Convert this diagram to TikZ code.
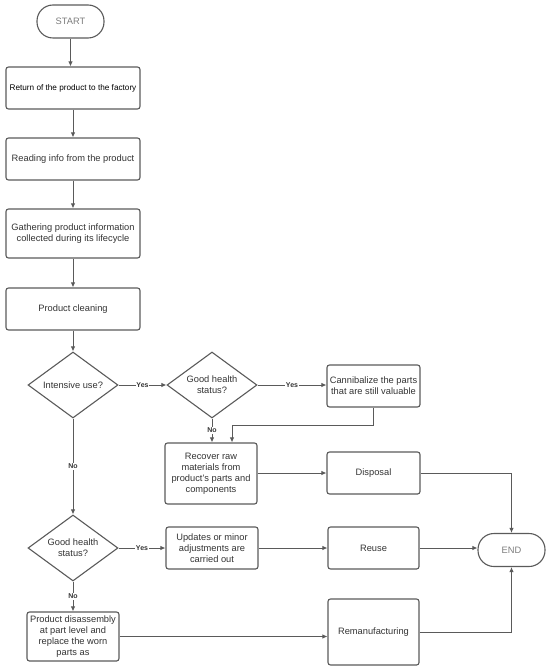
\documentclass[tikz,border=0pt]{standalone}
\usepackage{fontspec}
\setmainfont{Liberation Sans}
\usetikzlibrary{shapes.geometric,arrows.meta}
\definecolor{ln}{HTML}{5A5A5A}
\definecolor{tx}{HTML}{333333}
\begin{document}
\begin{tikzpicture}[x=1pt,y=-1pt,
  base/.style={draw=ln,line width=1.1pt,text=tx,align=center,inner sep=1pt,
    font=\fontsize{9.3}{11}\selectfont},
  proc/.style={base,rectangle,rounded corners=2.5pt},
  term/.style={base,rectangle,rounded corners=16pt,minimum width=67pt,minimum height=33pt,text=ln!80},
  dec/.style={base,diamond,aspect=1.36,minimum width=90pt,minimum height=66pt,inner sep=0pt},
  arr/.style={draw=ln,line width=0.9pt,-{Latex[length=5pt,width=4.5pt]}},
  lbl/.style={fill=white,inner sep=0.8pt,text=tx,font=\bfseries\fontsize{7}{8}\selectfont}]
\useasboundingbox (0,0) rectangle (550,671);
\node[term] (start) at (70.5,21.5) {START};
\node[proc,minimum width=134pt,minimum height=42pt,text=black,font=\fontsize{8.2}{10}\selectfont] (b1) at (73,88) {Return of the product to the factory};
\node[proc,minimum width=134pt,minimum height=42pt] (b2) at (73,159) {Reading info from the product};
\node[proc,minimum width=134pt,minimum height=49pt] (b3) at (73,233.5) {Gathering product information\\collected during its lifecycle};
\node[proc,minimum width=134pt,minimum height=42pt] (b4) at (73,309) {Product cleaning};
\node[dec] (d1) at (73,385) {Intensive use?};
\node[dec] (d2) at (212,385) {Good health\\status?};
\node[proc,minimum width=93pt,minimum height=42pt] (cann) at (373.5,386) {Cannibalize the parts\\that are still valuable};
\node[proc,minimum width=92pt,minimum height=61pt] (rec) at (211,473.5) {Recover raw\\materials from\\product's parts and\\components};
\node[proc,minimum width=93pt,minimum height=42pt] (disp) at (373.5,473) {Disposal};
\node[dec] (d3) at (73,548) {Good health\\status?};
\node[proc,minimum width=92pt,minimum height=42pt] (upd) at (212,548) {Updates or minor\\adjustments are\\carried out};
\node[proc,minimum width=91pt,minimum height=42pt] (reuse) at (373.5,548) {Reuse};
\node[term] (endn) at (511.5,550) {END};
\node[proc,minimum width=92pt,minimum height=49pt] (dis) at (73,636.5) {Product disassembly\\at part level and\\replace the worn\\parts as};
\node[proc,minimum width=91pt,minimum height=66pt] (reman) at (373.5,632) {Remanufacturing};
\coordinate (cb) at (232,425);
\draw[arr] (start) -- (start.south |- b1.north);
\draw[arr] (b1) -- (b2);
\draw[arr] (b2) -- (b3);
\draw[arr] (b3) -- (b4);
\draw[arr] (b4) -- (d1);
\draw[arr] (d1) -- node[lbl]{Yes} (d2);
\draw[arr] (d2) -- node[lbl]{Yes} (d2.east -| cann.west);
\draw[arr] (d2.south) -- node[lbl]{No} (d2.south |- rec.north);
\draw[arr] (cann.south) |- (cb) -- (cb |- rec.north);
\draw[arr] (rec.east |- disp.west) -- (disp.west);
\draw[arr] (disp.east) -| (endn.north);
\draw[arr] (d1.south) -- node[lbl]{No} (d3.north);
\draw[arr] (d3) -- node[lbl]{Yes} (upd);
\draw[arr] (d3.south) -- node[lbl]{No} (dis.north);
\draw[arr] (upd) -- (reuse);
\draw[arr] (reuse.east) -- (endn.west |- reuse.east);
\draw[arr] (dis.east) -- (dis.east -| reman.west);
\draw[arr] (reman.east) -| (endn.south);
\end{tikzpicture}
\end{document}
